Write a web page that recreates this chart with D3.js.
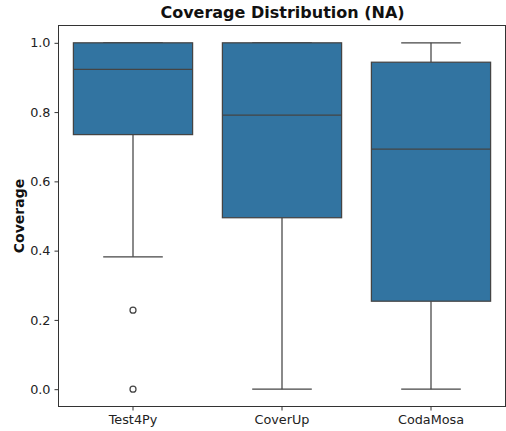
<!DOCTYPE html>
<html><head><meta charset="utf-8">
<script src="https://cdn.jsdelivr.net/npm/d3@7"></script>
<style>body{margin:0;background:#fff}svg{display:block}text{font-family:"DejaVu Sans",sans-serif}</style>
</head><body><svg id="c" width="506" height="431"></svg>
<script>
const categories = ["Test4Py", "CoverUp", "CodaMosa"];
const q1 = [0.735, 0.495, 0.254];
const medians = [0.923, 0.791, 0.693];
const q3 = [1.0, 1.0, 0.944];
const whiskerLow = [0.382, 0.0, 0.0];
const whiskerHigh = [1.0, 1.0, 1.0];
const outliers = [[0.228, 0.0], [], []];
const yTicks = [0.0, 0.2, 0.4, 0.6, 0.8, 1.0];

const svg = d3.select("#c");
const m = {l: 58.5, r: 505.5, t: 25.5, b: 406.5};
const x = d3.scaleBand().domain(categories).range([m.l, m.r]).paddingInner(0).paddingOuter(0);
const y = d3.scaleLinear().domain([-0.05, 1.05]).range([m.b, m.t]);
const bw = x.bandwidth() * 0.8;
const lc = "#444";
const fill = "#3274a1";

const g = svg.append("g");
categories.forEach((c, i) => {
  const cx = x(c) + x.bandwidth() / 2;
  g.append("line").attr("x1", cx).attr("x2", cx).attr("y1", y(q1[i])).attr("y2", y(whiskerLow[i])).attr("stroke", lc).attr("stroke-width", 1.25);
  g.append("line").attr("x1", cx).attr("x2", cx).attr("y1", y(q3[i])).attr("y2", y(whiskerHigh[i])).attr("stroke", lc).attr("stroke-width", 1.25);
  g.append("line").attr("x1", cx - bw / 4).attr("x2", cx + bw / 4).attr("y1", y(whiskerLow[i])).attr("y2", y(whiskerLow[i])).attr("stroke", lc).attr("stroke-width", 1.25);
  g.append("line").attr("x1", cx - bw / 4).attr("x2", cx + bw / 4).attr("y1", y(whiskerHigh[i])).attr("y2", y(whiskerHigh[i])).attr("stroke", lc).attr("stroke-width", 1.25);
  g.append("rect").attr("x", cx - bw / 2).attr("width", bw).attr("y", y(q3[i])).attr("height", y(q1[i]) - y(q3[i]))
    .attr("fill", fill).attr("stroke", lc).attr("stroke-width", 1.25);
  g.append("line").attr("x1", cx - bw / 2).attr("x2", cx + bw / 2).attr("y1", y(medians[i])).attr("y2", y(medians[i])).attr("stroke", lc).attr("stroke-width", 1.25);
  outliers[i].forEach(v => {
    g.append("circle").attr("cx", cx).attr("cy", y(v)).attr("r", 3).attr("fill", "none").attr("stroke", lc).attr("stroke-width", 1.25);
  });
});

svg.append("rect").attr("x", m.l).attr("y", m.t).attr("width", m.r - m.l).attr("height", m.b - m.t)
  .attr("fill", "none").attr("stroke", "#333").attr("stroke-width", 1);

const ya = svg.append("g").attr("transform", `translate(${m.l},0)`)
  .call(d3.axisLeft(y).tickValues(yTicks).tickFormat(d3.format(".1f")).tickSize(4).tickPadding(4));
ya.select(".domain").remove();
ya.selectAll("line").attr("stroke", "#333");
ya.selectAll("text").attr("font-size", 12.8).attr("fill", "#222").style("font-family", "DejaVu Sans");

const xa = svg.append("g").attr("transform", `translate(0,${m.b})`)
  .call(d3.axisBottom(x).tickSize(4).tickPadding(4));
xa.select(".domain").remove();
xa.selectAll("line").attr("stroke", "#333");
xa.selectAll("text").attr("font-size", 12.8).attr("fill", "#222").style("font-family", "DejaVu Sans");

svg.append("text").attr("x", (m.l + m.r) / 2 + 0.5).attr("y", 18).attr("text-anchor", "middle")
  .attr("font-size", 16).attr("font-weight", "bold").attr("fill", "#111").text("Coverage Distribution (NA)");
svg.append("text").attr("transform", `translate(24,${(m.t + m.b) / 2}) rotate(-90)`).attr("text-anchor", "middle")
  .attr("font-size", 14).attr("font-weight", "bold").attr("fill", "#111").text("Coverage");
</script></body></html>
